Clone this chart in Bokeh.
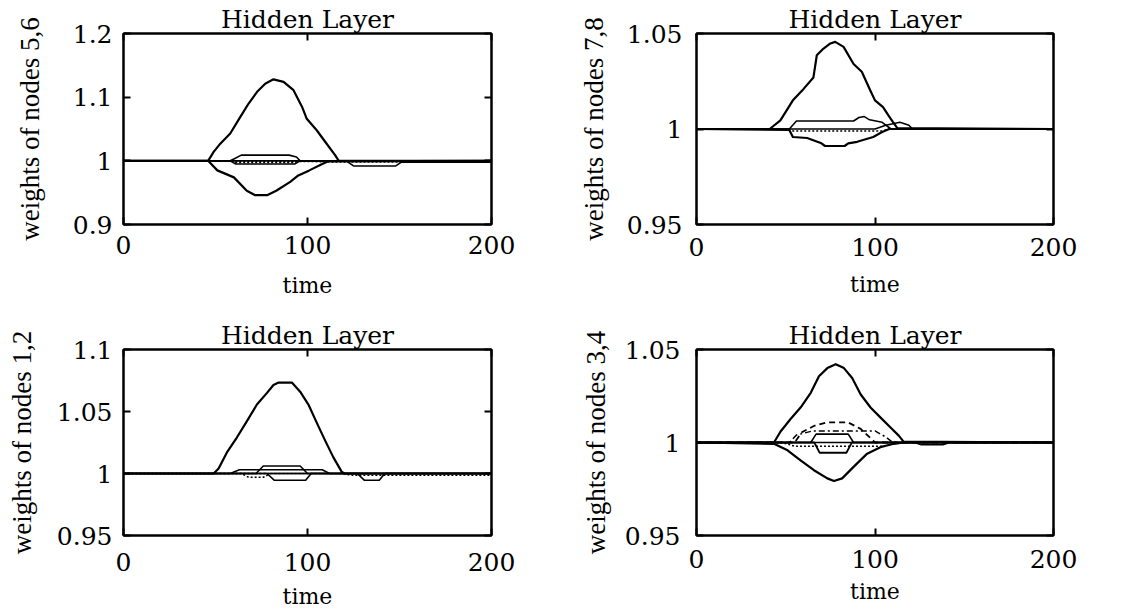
from bokeh.plotting import figure
from bokeh.models import Range1d, LinearAxis, FixedTicker, CustomJSTickFormatter
from bokeh.layouts import column, row
from bokeh.embed import file_html
from bokeh.resources import INLINE

TIME_RANGE = (0, 200)
TIME_TICKS = [0, 100, 200]
TITLE = "Hidden Layer"
XLABEL = "time"

# ---------------- Panel A: nodes 5,6 ----------------
A_YLABEL = "weights of nodes 5,6"
A_YRANGE = (0.9, 1.2)
A_YTICKS = [0.9, 1.0, 1.1, 1.2]
A_HUMP_T = [0, 46, 49, 52.6, 58, 63.5, 68, 72.5, 77, 81.5, 87, 92.4, 97, 99.6, 105, 109.6, 115, 117, 200]
A_HUMP_V = [1.0, 1.0, 1.014, 1.027, 1.043, 1.069, 1.090, 1.108, 1.121, 1.128, 1.124, 1.111, 1.085, 1.066, 1.048, 1.030, 1.009, 1.0, 1.0]
A_DIP_T = [0, 46, 51, 60, 67, 71.6, 78, 83, 90.6, 95, 101, 108, 111, 200]
A_DIP_V = [1.0, 1.0, 0.985, 0.974, 0.953, 0.946, 0.946, 0.953, 0.967, 0.977, 0.985, 0.995, 0.999, 1.0]
A_BUMP_T = [0, 58, 60, 64, 90, 94, 96, 200]
A_BUMP_V = [1.0, 1.0, 1.003, 1.009, 1.009, 1.006, 1.0, 1.0]
A_LENS_T = [0, 58, 61, 93, 96, 200]
A_LENS_V = [1.0, 1.0, 0.995, 0.995, 1.0, 1.0]
A_LENSDOT_T = [0, 59, 61, 93, 95, 200]
A_LENSDOT_V = [1.0, 1.0, 0.9975, 0.9975, 1.0, 1.0]
A_TAIL_T = [0, 121, 125, 148, 151, 200]
A_TAIL_V = [1.0, 1.0, 0.992, 0.992, 0.998, 0.998]
A_DOT_T = [0, 100, 118, 200]
A_DOT_V = [1.0, 0.999, 0.998, 0.998]

# ---------------- Panel B: nodes 7,8 ----------------
B_YLABEL = "weights of nodes 7,8"
B_YRANGE = (0.95, 1.05)
B_YTICKS = [0.95, 1.0, 1.05]
B_HUMP_T = [0, 41, 47, 54, 60, 65.5, 67.4, 71, 75, 77.7, 82.4, 88, 92.6, 97.3, 100, 104.5, 107.6, 110, 112.5, 200]
B_HUMP_V = [1.0, 1.0, 1.0045, 1.015, 1.021, 1.027, 1.0386, 1.042, 1.0448, 1.0456, 1.043, 1.034, 1.030, 1.0203, 1.015, 1.0115, 1.007, 1.0037, 1.0005, 1.0]
B_DIP_T = [0, 52, 54, 62, 70, 72, 83, 85, 90, 99, 104, 108, 200]
B_DIP_V = [1.0, 0.9995, 0.9958, 0.9953, 0.9925, 0.9911, 0.9911, 0.9925, 0.9933, 0.9958, 0.9984, 1.0, 1.0]
B_BUMP_T = [0, 52, 56, 88, 91, 94, 97, 104, 109, 200]
B_BUMP_V = [1.0, 1.0, 1.0042, 1.0042, 1.006, 1.0065, 1.0048, 1.0035, 1.0, 1.0]
B_BUMP2_T = [0, 100, 106, 114, 119, 121, 200]
B_BUMP2_V = [1.0, 1.0, 1.002, 1.0035, 1.002, 1.0, 1.0]
B_LENS_T = [0, 50, 54, 104, 108, 200]
B_LENS_V = [1.0, 1.0, 0.999, 0.999, 1.0, 1.0]

# ---------------- Panel C: nodes 1,2 ----------------
C_YLABEL = "weights of nodes 1,2"
C_YRANGE = (0.95, 1.1)
C_YTICKS = [0.95, 1.0, 1.05, 1.1]
C_HUMP_T = [0, 49, 51.7, 56.2, 61.6, 67, 72.5, 78, 81.5, 84.3, 91.5, 96, 100.5, 105, 109.6, 114, 118.6, 120.4, 200]
C_HUMP_V = [1.0, 1.0, 1.004, 1.017, 1.029, 1.042, 1.0556, 1.065, 1.0714, 1.0733, 1.0733, 1.066, 1.0556, 1.041, 1.0265, 1.0132, 1.0013, 1.0, 1.0]
C_BUMP_T = [0, 72, 76, 96, 100, 200]
C_BUMP_V = [1.0, 1.0, 1.006, 1.006, 1.0, 1.0]
C_LENS_T = [0, 58, 63, 108, 112, 200]
C_LENS_V = [1.0, 1.0, 1.003, 1.003, 1.0, 1.0]
C_DIP_T = [0, 78, 82, 99, 102, 200]
C_DIP_V = [1.0, 1.0, 0.9945, 0.9945, 1.0, 1.0]
C_DIP2_T = [0, 64, 68, 76, 80, 200]
C_DIP2_V = [1.0, 1.0, 0.997, 0.997, 1.0, 1.0]
C_TAIL_T = [0, 127, 131, 139, 142, 200]
C_TAIL_V = [1.0, 1.0, 0.9945, 0.9945, 1.0, 1.0]
C_DOT_T = [0, 118, 125, 200]
C_DOT_V = [1.0, 1.0, 0.9985, 0.9985]

# ---------------- Panel D: nodes 3,4 ----------------
D_YLABEL = "weights of nodes 3,4"
D_YRANGE = (0.95, 1.05)
D_YTICKS = [0.95, 1.0, 1.05]
D_HUMP_T = [0, 43.4, 47, 52.7, 58.3, 64, 68.6, 73.3, 78, 82.6, 87.2, 92, 97.5, 103, 108.7, 113.3, 116, 200]
D_HUMP_V = [1.0, 1.0, 1.0058, 1.0126, 1.0188, 1.0267, 1.0356, 1.040, 1.0421, 1.040, 1.0347, 1.0258, 1.0188, 1.0135, 1.0081, 1.0037, 1.0005, 1.0]
D_DIP_T = [0, 43.4, 51, 58.3, 65.8, 73.3, 77, 81.6, 88, 95.6, 103, 110.5, 116, 200]
D_DIP_V = [1.0, 0.9993, 0.9958, 0.9904, 0.9851, 0.9807, 0.9793, 0.9807, 0.9869, 0.994, 0.9975, 0.9993, 1.0, 1.0]
D_DASH_T = [0, 55, 59, 66, 73, 85, 92, 96, 100, 200]
D_DASH_V = [1.0, 1.0, 1.0055, 1.009, 1.0108, 1.0108, 1.0073, 1.0037, 1.0, 1.0]
D_DASHDOT_T = [0, 52, 56, 65, 100, 106, 110, 200]
D_DASHDOT_V = [1.0, 1.0, 1.004, 1.0062, 1.0062, 1.003, 1.0, 1.0]
D_LENSTOP_T = [0, 64, 67, 85, 88, 200]
D_LENSTOP_V = [1.0, 1.0, 1.0045, 1.0045, 1.0, 1.0]
D_LENSBOT_T = [0, 66, 69, 84, 87, 200]
D_LENSBOT_V = [1.0, 1.0, 0.9945, 0.9945, 1.0, 1.0]
D_DOT_T = [0, 48, 55, 105, 112, 200]
D_DOT_V = [1.0, 1.0, 0.998, 0.998, 1.0, 1.0]
D_TAIL_T = [0, 122, 126, 138, 142, 200]
D_TAIL_V = [1.0, 1.0, 0.9988, 0.9988, 1.0, 1.0]

SOLID, DOT, DASH, DASHDOT = "solid", "2 2", "6 4", "6 3 2 3"

PANELS = [
    dict(ylabel=A_YLABEL, yrange=A_YRANGE, yticks=A_YTICKS,
         borders=(123, 72, 33, 82), w=563, h=306,
         ystand=11, ylab_stand=25, xstand=11, xlab_stand=16,
         series=[(A_HUMP_T, A_HUMP_V, SOLID, 2.2), (A_DIP_T, A_DIP_V, SOLID, 2.2),
                 (A_BUMP_T, A_BUMP_V, SOLID, 1.6), (A_LENS_T, A_LENS_V, SOLID, 1.6),
                 (A_LENSDOT_T, A_LENSDOT_V, DOT, 1.5), (A_TAIL_T, A_TAIL_V, SOLID, 1.6),
                 (A_DOT_T, A_DOT_V, DOT, 1.5)]),
    dict(ylabel=B_YLABEL, yrange=B_YRANGE, yticks=B_YTICKS,
         borders=(133, 71, 33, 82), w=561, h=306,
         ystand=14, ylab_stand=15, xstand=13, xlab_stand=13,
         series=[(B_HUMP_T, B_HUMP_V, SOLID, 2.2), (B_DIP_T, B_DIP_V, SOLID, 2.2),
                 (B_BUMP_T, B_BUMP_V, SOLID, 1.6), (B_BUMP2_T, B_BUMP2_V, SOLID, 1.6),
                 (B_LENS_T, B_LENS_V, DOT, 1.5)]),
    dict(ylabel=C_YLABEL, yrange=C_YRANGE, yticks=C_YTICKS,
         borders=(123, 72, 43, 75), w=563, h=305,
         ystand=11, ylab_stand=17, xstand=17, xlab_stand=10,
         series=[(C_HUMP_T, C_HUMP_V, SOLID, 2.2), (C_BUMP_T, C_BUMP_V, SOLID, 1.6),
                 (C_LENS_T, C_LENS_V, SOLID, 1.6), (C_DIP_T, C_DIP_V, SOLID, 1.6),
                 (C_DIP2_T, C_DIP2_V, DOT, 1.5), (C_TAIL_T, C_TAIL_V, SOLID, 1.6),
                 (C_DOT_T, C_DOT_V, DOT, 1.5)]),
    dict(ylabel=D_YLABEL, yrange=D_YRANGE, yticks=D_YTICKS,
         borders=(133, 71, 43, 74), w=561, h=305,
         ystand=16, ylab_stand=11, xstand=14, xlab_stand=8,
         series=[(D_HUMP_T, D_HUMP_V, SOLID, 2.2), (D_DIP_T, D_DIP_V, SOLID, 2.2),
                 (D_DASH_T, D_DASH_V, DASH, 1.8), (D_DASHDOT_T, D_DASHDOT_V, DASHDOT, 1.5),
                 (D_LENSTOP_T, D_LENSTOP_V, SOLID, 1.6), (D_LENSBOT_T, D_LENSBOT_V, SOLID, 1.8),
                 (D_DOT_T, D_DOT_V, DOT, 1.5), (D_TAIL_T, D_TAIL_V, SOLID, 1.5)]),
]

SERIF = "DejaVu Serif"
LABEL_SERIF = "Liberation Serif"
FMT_CODE = "return String(Math.round(tick*1000)/1000);"


def make_panel(cfg):
    left, right, top, bottom = cfg["borders"]
    p = figure(width=cfg["w"], height=cfg["h"],
               x_range=Range1d(*TIME_RANGE), y_range=Range1d(*cfg["yrange"]),
               output_backend="svg", toolbar_location=None,
               min_border_left=left, min_border_right=right,
               min_border_top=top, min_border_bottom=bottom,
               x_axis_label=XLABEL, y_axis_label=cfg["ylabel"], title=TITLE)
    p.grid.visible = False
    p.outline_line_color = "black"
    p.outline_line_width = 2
    p.background_fill_color = "white"
    p.border_fill_color = "white"

    p.title.align = "center"
    p.title.text_font = SERIF
    p.title.text_font_size = "25px"
    p.title.text_font_style = "normal"
    p.title.text_color = "black"
    p.title.standoff = 0

    xa = p.xaxis[0]
    xa.ticker = FixedTicker(ticks=TIME_TICKS)
    xa.formatter = CustomJSTickFormatter(code=FMT_CODE)
    xa.major_label_standoff = cfg["xstand"]
    xa.axis_label_standoff = cfg["xlab_stand"]
    xa.axis_label_text_font = SERIF
    xa.axis_label_text_font_size = "22px"

    ya = p.yaxis[0]
    ya.ticker = FixedTicker(ticks=cfg["yticks"])
    ya.formatter = CustomJSTickFormatter(code=FMT_CODE)
    ya.major_label_standoff = cfg["ystand"]
    ya.axis_label_standoff = cfg["ylab_stand"]
    ya.axis_label_text_font = LABEL_SERIF
    ya.axis_label_text_font_size = "27px"

    for ax in (xa, ya):
        ax.major_tick_in = 7
        ax.major_tick_out = 0
        ax.minor_tick_in = 0
        ax.minor_tick_out = 0
        ax.axis_line_width = 2
        ax.axis_line_color = "black"
        ax.major_tick_line_width = 2
        ax.major_tick_line_color = "black"
        ax.major_label_text_font = SERIF
        ax.major_label_text_font_size = "25px"
        ax.major_label_text_color = "black"
        ax.axis_label_text_color = "black"
        ax.axis_label_text_font_style = "normal"

    for loc, ticks in (("right", cfg["yticks"]), ("above", TIME_TICKS)):
        mirror = LinearAxis(ticker=FixedTicker(ticks=ticks),
                            formatter=CustomJSTickFormatter(code="return '';"),
                            major_tick_in=7, major_tick_out=0,
                            minor_tick_in=0, minor_tick_out=0,
                            major_label_standoff=0,
                            major_label_text_font_size="1px",
                            axis_line_width=2, axis_line_color="black",
                            major_tick_line_width=2, major_tick_line_color="black")
        p.add_layout(mirror, loc)

    for t, v, dash, lw in cfg["series"]:
        p.line(t, v, line_color="black", line_width=lw, line_dash=dash, line_join="round")
    return p


figs = [make_panel(c) for c in PANELS]
layout = column(row(figs[0], figs[1]), row(figs[2], figs[3]))

open("out.html", "w").write(file_html(layout, INLINE))
